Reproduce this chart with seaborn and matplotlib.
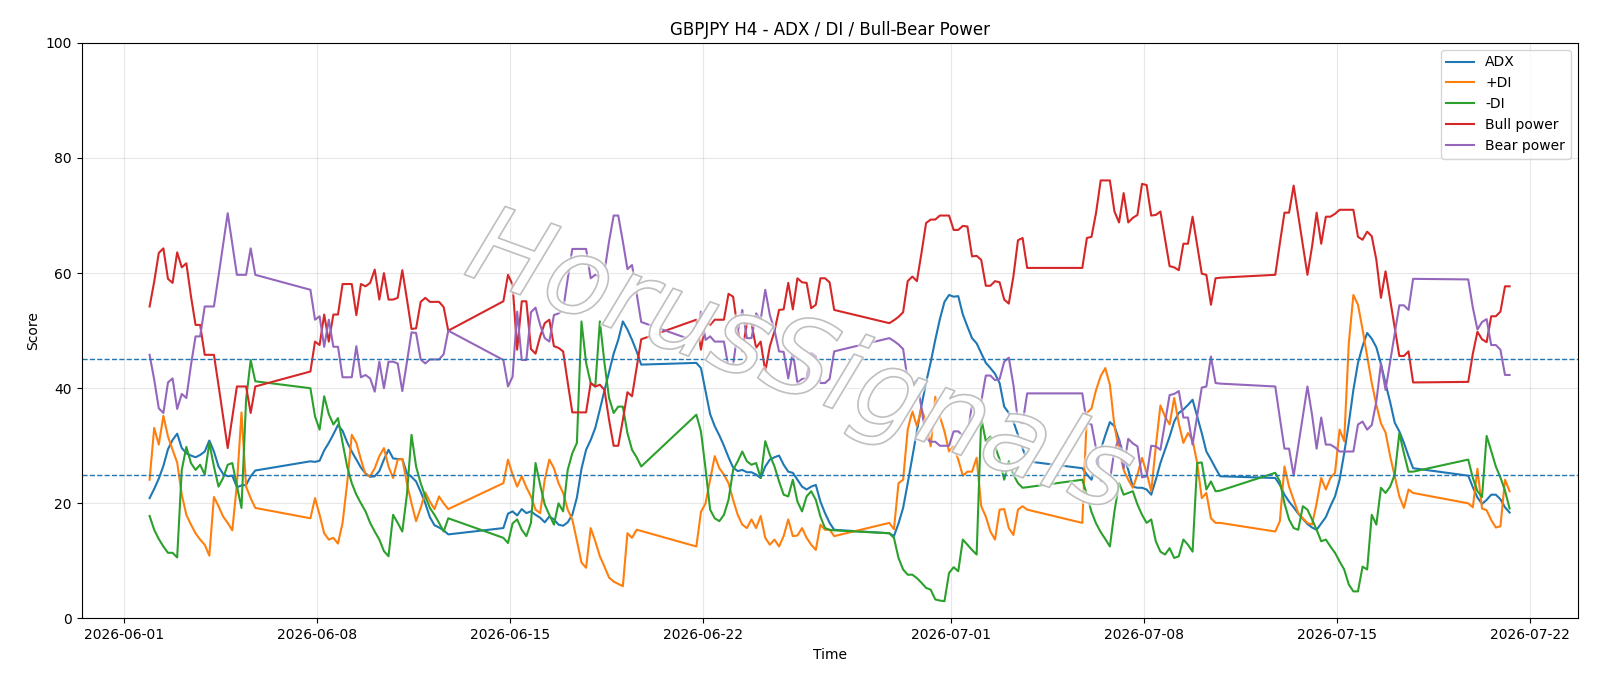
import pandas as pd
import matplotlib
matplotlib.use('Agg')
import matplotlib.pyplot as plt
import matplotlib.patheffects as pe
import seaborn as sns

# 4H bars, one block per trading week (lines run straight across the weekend gaps)
seg_starts = ['2026-06-01 22:00', '2026-06-07 18:00', '2026-06-14 18:00', '2026-06-21 18:00',
              '2026-06-28 18:00', '2026-07-05 18:00', '2026-07-12 18:00', '2026-07-19 18:00']
seg_bars = [24, 31, 31, 31, 31, 31, 31, 10]

adx = [
    20.9, 22.5, 24.3, 26.5, 29.4, 31.0, 32.1, 29.6, 28.7, 28.3, 28.0, 28.4, 29.0, 30.9, 29.0, 26.4, 25.1, 24.7, 24.8, 22.8, 23.1, 23.2, 24.7, 25.7,
    27.3, 27.2, 27.4, 29.2, 30.5, 32.0, 33.6, 32.6, 30.6, 29.0, 27.6, 26.2, 25.2, 24.6, 24.7, 25.6, 27.6, 29.3, 27.8, 27.7, 27.7, 25.2, 24.6, 23.8, 22.0, 20.0, 17.6, 16.2, 15.8, 15.3, 14.6,
    15.7, 18.2, 18.6, 17.9, 19.0, 18.3, 18.6, 18.0, 17.5, 16.7, 17.7, 17.2, 16.3, 16.1, 16.7, 18.0, 21.0, 26.0, 29.3, 31.0, 33.1, 36.3, 39.6, 42.8, 46.0, 48.4, 51.6, 50.2, 48.4, 46.4, 44.1,
    44.4, 43.5, 39.5, 35.5, 33.4, 31.8, 30.0, 28.0, 26.2, 25.6, 25.8, 25.4, 25.4, 25.0, 24.4, 26.4, 27.6, 28.0, 28.3, 26.7, 25.5, 25.3, 24.1, 22.9, 22.4, 22.9, 23.2, 20.3, 18.3, 16.6, 15.4,
    14.8, 14.3, 16.5, 19.2, 23.5, 28.0, 32.6, 37.0, 41.0, 44.5, 48.4, 52.0, 55.0, 56.2, 55.9, 56.0, 52.8, 50.7, 48.7, 47.8, 46.1, 44.4, 43.5, 42.5, 40.9, 36.8, 35.7, 34.2, 31.9, 29.6, 27.3,
    26.1, 25.0, 24.1, 26.5, 29.3, 31.8, 34.1, 33.4, 31.0, 28.4, 25.8, 22.9, 22.7, 22.7, 22.4, 21.5, 24.1, 27.0, 29.3, 31.6, 34.2, 35.7, 36.3, 37.1, 38.0, 35.1, 32.2, 29.0, 27.6, 26.1, 24.7,
    24.4, 23.2, 21.5, 20.3, 19.3, 18.2, 17.3, 16.4, 15.8, 15.4, 16.5, 17.6, 19.5, 21.2, 24.1, 28.7, 33.9, 39.7, 44.4, 47.3, 49.6, 48.6, 47.1, 44.2, 40.8, 37.6, 34.0, 32.5, 30.5, 28.2, 26.1,
    24.8, 22.8, 21.0, 19.9, 20.6, 21.5, 21.5, 20.7, 19.3, 18.4,
]

plus_di = [
    24.1, 33.1, 30.2, 35.2, 31.6, 29.3, 27.1, 21.5, 18.0, 16.3, 14.8, 13.7, 12.8, 10.9, 21.1, 19.5, 17.7, 16.6, 15.3, 23.3, 35.8, 22.9, 20.9, 19.2,
    17.4, 20.9, 18.0, 14.8, 13.7, 14.0, 13.0, 16.6, 23.5, 31.9, 30.5, 27.6, 25.0, 24.7, 26.1, 28.2, 29.6, 26.4, 24.4, 27.6, 27.7, 23.5, 20.0, 16.9, 19.2, 21.9, 20.3, 19.0, 21.2, 20.0, 19.0,
    23.5, 27.6, 25.0, 22.9, 24.7, 22.8, 21.2, 18.9, 18.3, 24.1, 27.6, 26.1, 23.5, 21.8, 18.9, 17.2, 13.5, 9.7, 8.8, 15.7, 13.4, 10.8, 9.0, 7.1, 6.4, 6.0, 5.6, 14.8, 14.0, 15.4, 15.2,
    12.5, 18.5, 20.0, 24.1, 28.2, 26.1, 25.0, 23.5, 20.6, 18.0, 16.3, 15.7, 17.2, 15.7, 17.8, 14.0, 12.8, 13.7, 12.5, 14.3, 17.2, 14.3, 14.4, 15.7, 14.0, 12.8, 11.9, 16.3, 15.4, 15.4, 14.3,
    16.6, 15.5, 23.5, 24.1, 32.8, 36.0, 33.4, 36.5, 33.9, 29.9, 38.5, 35.1, 32.5, 29.0, 29.9, 27.6, 24.8, 25.5, 25.5, 27.9, 19.5, 17.7, 15.1, 13.7, 18.9, 19.0, 15.7, 14.5, 18.9, 19.5, 18.9,
    16.6, 35.7, 36.5, 39.7, 42.1, 43.5, 40.6, 33.4, 29.3, 25.8, 24.1, 22.7, 25.0, 27.9, 25.3, 22.1, 29.9, 37.0, 35.1, 33.7, 38.3, 33.9, 30.5, 32.2, 31.0, 27.0, 20.9, 21.8, 17.4, 16.6, 16.6,
    15.1, 16.9, 26.4, 22.9, 20.6, 18.3, 17.4, 16.6, 16.3, 20.0, 24.4, 22.4, 24.4, 25.3, 32.8, 30.8, 47.8, 56.2, 54.5, 50.2, 45.5, 40.9, 37.1, 33.9, 32.3, 28.2, 24.7, 21.2, 19.2, 22.4, 21.8,
    20.0, 19.3, 26.0, 19.1, 18.8, 17.1, 15.8, 16.0, 24.1, 22.1,
]

minus_di = [
    17.8, 15.4, 13.8, 12.5, 11.4, 11.4, 10.6, 25.8, 29.8, 27.0, 25.8, 26.7, 25.0, 30.5, 26.4, 22.9, 24.4, 26.7, 27.0, 23.0, 19.2, 38.0, 44.9, 41.2,
    40.0, 35.1, 32.8, 38.6, 35.5, 33.7, 34.8, 30.5, 26.4, 23.5, 21.5, 20.0, 18.6, 16.6, 15.1, 13.7, 11.7, 10.8, 18.0, 16.6, 15.1, 21.5, 31.9, 26.4, 23.5, 21.2, 19.2, 18.0, 16.6, 15.1, 17.4,
    14.0, 13.1, 16.5, 17.2, 15.4, 14.3, 16.6, 27.0, 23.2, 19.8, 18.0, 16.3, 20.0, 18.6, 25.8, 28.7, 30.5, 51.6, 44.4, 40.9, 40.3, 51.6, 44.4, 38.3, 35.7, 36.8, 36.8, 32.2, 29.3, 28.0, 26.4,
    35.4, 32.5, 26.0, 18.9, 17.4, 16.9, 18.0, 20.6, 25.8, 27.3, 29.0, 27.3, 26.7, 27.0, 24.4, 30.8, 28.4, 26.4, 23.8, 21.5, 21.2, 24.1, 20.3, 18.6, 21.2, 22.1, 20.6, 17.7, 15.7, 15.4, 15.3,
    14.8, 14.0, 10.5, 8.5, 7.6, 7.6, 7.0, 6.2, 5.3, 5.0, 3.3, 3.1, 3.0, 7.9, 8.9, 8.2, 13.7, 12.8, 11.9, 11.1, 34.8, 30.8, 31.6, 29.9, 27.6, 24.1, 27.3, 25.0, 23.5, 22.7, 22.8,
    24.1, 21.5, 18.5, 16.5, 15.0, 13.8, 12.5, 18.6, 23.5, 21.5, 21.8, 22.1, 19.8, 18.0, 16.6, 17.2, 13.4, 11.6, 11.1, 12.2, 10.5, 10.8, 13.7, 12.8, 11.6, 27.0, 27.1, 22.4, 23.8, 22.1, 22.2,
    25.3, 23.8, 20.0, 17.2, 15.7, 15.4, 19.5, 18.9, 17.2, 15.4, 13.4, 13.7, 12.5, 11.4, 9.9, 8.5, 5.9, 4.7, 4.7, 9.0, 8.5, 18.0, 16.3, 22.7, 21.8, 22.9, 25.0, 32.2, 28.7, 25.5, 25.5,
    27.6, 24.4, 22.1, 21.1, 31.7, 29.1, 26.4, 24.5, 22.2, 19.1,
]

bull_power = [
    54.2, 58.5, 63.5, 64.3, 59.0, 58.3, 63.6, 61.0, 61.7, 56.0, 51.0, 51.0, 45.8, 45.8, 45.8, 40.5, 35.0, 29.6, 35.0, 40.3, 40.3, 40.3, 35.7, 40.3,
    42.9, 48.1, 47.5, 52.8, 48.1, 52.8, 52.8, 58.1, 58.1, 58.1, 52.7, 58.1, 57.7, 58.3, 60.6, 55.4, 60.0, 55.4, 55.4, 55.7, 60.5, 55.5, 50.3, 50.4, 55.0, 55.7, 55.0, 55.0, 55.0, 54.1, 50.0,
    55.1, 59.7, 58.0, 46.7, 55.1, 55.1, 46.8, 46.0, 49.0, 51.3, 51.9, 47.3, 47.0, 46.4, 41.0, 35.8, 35.8, 35.8, 35.8, 40.9, 40.3, 40.6, 39.7, 34.5, 30.0, 30.0, 34.5, 39.3, 38.6, 43.5, 48.5,
    51.9, 46.7, 51.6, 51.0, 51.9, 51.9, 51.9, 56.4, 55.9, 50.2, 46.4, 51.3, 51.3, 47.0, 48.1, 42.9, 47.3, 49.9, 53.6, 53.7, 58.3, 53.7, 59.1, 58.4, 58.3, 53.9, 54.5, 59.1, 59.1, 58.4, 53.6,
    51.3, 51.8, 52.4, 53.2, 58.6, 59.4, 58.6, 63.5, 68.7, 69.3, 69.3, 70.0, 70.0, 70.0, 67.5, 67.5, 68.2, 68.1, 62.9, 63.0, 62.3, 57.8, 57.8, 58.6, 58.4, 55.4, 54.7, 59.4, 65.7, 66.1, 60.9,
    60.9, 66.1, 66.3, 70.5, 76.1, 76.1, 76.1, 70.7, 68.8, 73.9, 68.8, 69.6, 70.1, 75.5, 75.3, 70.0, 70.1, 70.7, 65.9, 61.2, 61.0, 60.5, 65.1, 65.1, 69.8, 64.8, 59.9, 59.7, 54.5, 59.1, 59.2,
    59.7, 65.2, 70.5, 70.5, 75.2, 70.0, 64.8, 59.7, 64.6, 70.5, 65.1, 69.8, 69.8, 70.3, 71.0, 71.0, 71.0, 71.0, 66.3, 65.8, 67.2, 66.4, 62.3, 55.7, 60.3, 55.4, 50.5, 45.6, 45.6, 46.4, 41.0,
    41.1, 46.0, 49.8, 48.5, 48.0, 52.5, 52.5, 53.3, 57.7, 57.7,
]

bear_power = [
    45.8, 41.5, 36.5, 35.7, 41.0, 41.7, 36.4, 39.0, 38.3, 44.0, 49.0, 49.0, 54.2, 54.2, 54.2, 59.5, 65.0, 70.4, 65.0, 59.7, 59.7, 59.7, 64.3, 59.7,
    57.1, 51.9, 52.5, 47.2, 51.9, 47.2, 47.2, 41.9, 41.9, 41.9, 47.3, 41.9, 42.3, 41.7, 39.4, 44.6, 40.0, 44.6, 44.6, 44.3, 39.5, 44.5, 49.7, 49.6, 45.0, 44.3, 45.0, 45.0, 45.0, 45.9, 50.0,
    44.9, 40.3, 42.0, 53.3, 44.9, 44.9, 53.2, 54.0, 51.0, 48.7, 48.1, 52.7, 53.0, 53.6, 59.0, 64.2, 64.2, 64.2, 64.2, 59.1, 59.7, 59.4, 60.3, 65.5, 70.0, 70.0, 65.5, 60.7, 61.4, 56.5, 51.5,
    48.1, 53.3, 48.4, 49.0, 48.1, 48.1, 48.1, 43.6, 44.1, 49.8, 53.6, 48.7, 48.7, 53.0, 51.9, 57.1, 52.7, 50.1, 46.4, 46.3, 41.7, 46.3, 40.9, 41.6, 41.7, 46.1, 45.5, 40.9, 40.9, 41.6, 46.4,
    48.7, 48.2, 47.6, 46.8, 41.4, 40.6, 41.4, 36.5, 31.3, 30.7, 30.7, 30.0, 30.0, 30.0, 32.5, 32.5, 31.8, 31.9, 37.1, 37.0, 37.7, 42.2, 42.2, 41.4, 41.6, 44.6, 45.3, 40.6, 34.3, 33.9, 39.1,
    39.1, 33.9, 33.7, 29.5, 23.9, 23.9, 23.9, 29.3, 31.2, 26.1, 31.2, 30.4, 29.9, 24.5, 24.7, 30.0, 29.9, 29.3, 34.1, 38.8, 39.0, 39.5, 34.9, 34.9, 30.2, 35.2, 40.1, 40.3, 45.5, 40.9, 40.8,
    40.3, 34.8, 29.5, 29.5, 24.8, 30.0, 35.2, 40.3, 35.4, 29.5, 34.9, 30.2, 30.2, 29.7, 29.0, 29.0, 29.0, 29.0, 33.7, 34.2, 32.8, 33.6, 37.7, 44.3, 39.7, 44.6, 49.5, 54.4, 54.4, 53.6, 59.0,
    58.9, 54.0, 50.2, 51.5, 52.0, 47.5, 47.5, 46.7, 42.3, 42.3,
]

series_names = ['ADX', '+DI', '-DI', 'Bull power', 'Bear power']
colors = ['#1f77b4', '#ff7f0e', '#2ca02c', '#d62728', '#9467bd']

times = pd.DatetimeIndex([])
for start, n in zip(seg_starts, seg_bars):
    times = times.append(pd.date_range(start, periods=n, freq='4h'))

df = pd.DataFrame({'Time': times, 'ADX': adx, '+DI': plus_di, '-DI': minus_di,
                   'Bull power': bull_power, 'Bear power': bear_power})
long_df = df.melt(id_vars='Time', var_name='series', value_name='Score')

fig = plt.figure(figsize=(16, 6.86), dpi=100)
ax = fig.add_axes([0.051, 0.0985, 0.935, 0.839])

sns.lineplot(data=long_df, x='Time', y='Score', hue='series', hue_order=series_names,
             palette=colors, linewidth=1.5, ax=ax)

ax.axhline(45, color='#1f77b4', linestyle='--', linewidth=1)
ax.axhline(25, color='#1f77b4', linestyle='--', linewidth=1)

ax.set_ylim(0, 100)
ax.grid(True, alpha=0.3)
ax.set_title('GBPJPY H4 - ADX / DI / Bull-Bear Power')
ax.set_xlabel('Time')
ax.set_ylabel('Score')
sns.move_legend(ax, 'upper right', title=None)

# watermark: thin light-grey outline with a soft white halo
ax.text(0.48, 0.44, 'HorusSignals', transform=ax.transAxes, fontsize=77,
        fontstyle='italic', color='white', alpha=0.22,
        rotation=-20, ha='center', va='center', zorder=5,
        path_effects=[pe.Normal(),
                      pe.Stroke(linewidth=3.5, foreground='white', alpha=0.55),
                      pe.Stroke(linewidth=1.2, foreground='#b8b8b8', alpha=0.9)])

fig.savefig('out.png', dpi=100)
